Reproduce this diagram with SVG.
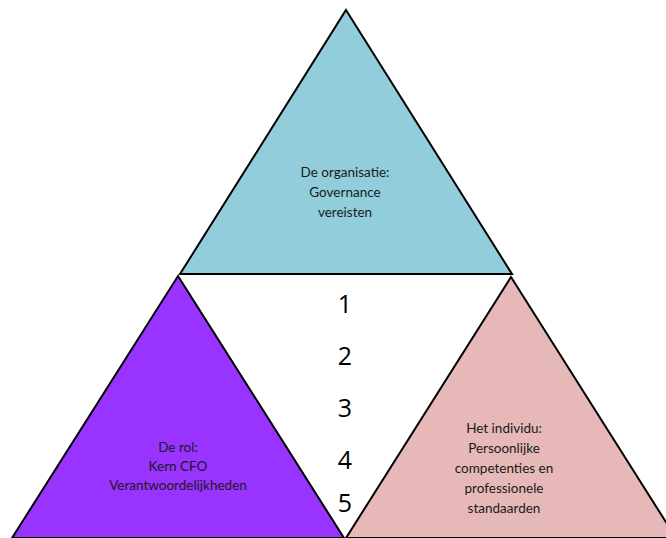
<svg xmlns="http://www.w3.org/2000/svg" width="666" height="538" viewBox="0 0 666 538">
<style>
.tri{stroke:#000;stroke-width:2;stroke-linejoin:miter}
.lbl{font-family:Lato,"Open Sans",sans-serif;font-size:13.5px;fill:#1a1a1a;text-anchor:middle}
.num{font-family:"Open Sans","Noto Sans",sans-serif;font-size:25px;fill:#000;text-anchor:middle}
</style>
<rect width="666" height="538" fill="#fff"/>
<g id="organisatie">
<polygon class="tri" points="346,10 512,274 180,274" fill="#92CDDC"/>
<text class="lbl" x="345" y="177">De organisatie:</text>
<text class="lbl" x="345" y="197">Governance</text>
<text class="lbl" x="345" y="217">vereisten</text>
</g>
<g id="rol">
<polygon class="tri" points="178,276 344,538 12,538" fill="#9933FF"/>
<text class="lbl" x="178" y="452">De rol:</text>
<text class="lbl" x="178" y="471">Kern CFO</text>
<text class="lbl" x="178" y="490">Verantwoordelijkheden</text>
</g>
<g id="individu">
<polygon class="tri" points="511,277 676,538 346,538" fill="#E6B9B8"/>
<text class="lbl" x="504" y="433">Het individu:</text>
<text class="lbl" x="504" y="453">Persoonlijke</text>
<text class="lbl" x="504" y="473">competenties en</text>
<text class="lbl" x="504" y="493">professionele</text>
<text class="lbl" x="504" y="513">standaarden</text>
</g>
<g id="nummers">
<text class="num" x="345" y="313">1</text>
<text class="num" x="345" y="365">2</text>
<text class="num" x="345" y="417">3</text>
<text class="num" x="345" y="469">4</text>
<text class="num" x="345" y="512">5</text>
</g>
<g id="connectors"></g>
</svg>
